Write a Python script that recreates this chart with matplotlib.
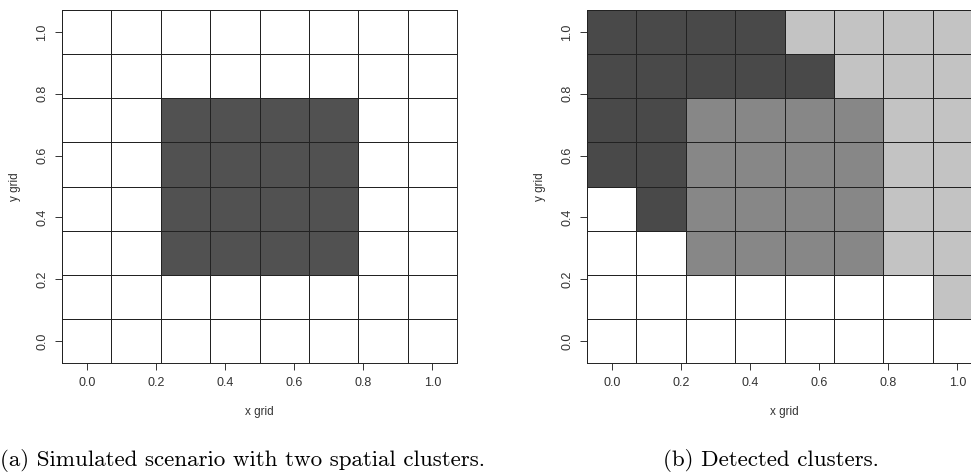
# Two spatial cluster grids, simulated vs detected

import numpy as np
import matplotlib.pyplot as plt
from matplotlib.colors import ListedColormap

# grid centres (8 x 8 cells)
x_grid = [0.0, 0.143, 0.286, 0.429, 0.571, 0.714, 0.857, 1.0]
y_grid = [0.0, 0.143, 0.286, 0.429, 0.571, 0.714, 0.857, 1.0]
ticks = [0.0, 0.2, 0.4, 0.6, 0.8, 1.0]
tick_labels = ['0.0', '0.2', '0.4', '0.6', '0.8', '1.0']

# cluster labels, rows listed from top (y=1) to bottom (y=0)
# 0 = none, 1 = dark, 2 = medium, 3 = light
simulated = [
    [0, 0, 0, 0, 0, 0, 0, 0],
    [0, 0, 0, 0, 0, 0, 0, 0],
    [0, 0, 1, 1, 1, 1, 0, 0],
    [0, 0, 1, 1, 1, 1, 0, 0],
    [0, 0, 1, 1, 1, 1, 0, 0],
    [0, 0, 1, 1, 1, 1, 0, 0],
    [0, 0, 0, 0, 0, 0, 0, 0],
    [0, 0, 0, 0, 0, 0, 0, 0],
]
detected = [
    [1, 1, 1, 1, 3, 3, 3, 3],
    [1, 1, 1, 1, 1, 3, 3, 3],
    [1, 1, 2, 2, 2, 2, 3, 3],
    [1, 1, 2, 2, 2, 2, 3, 3],
    [0, 1, 2, 2, 2, 2, 3, 3],
    [0, 0, 2, 2, 2, 2, 3, 3],
    [0, 0, 0, 0, 0, 0, 0, 3],
    [0, 0, 0, 0, 0, 0, 0, 0],
]

cmap_a = ListedColormap(['white', '#515151'])
cmap_b = ListedColormap(['white', '#494949', '#878787', '#c3c3c3'])

W, H = 971, 475
fig = plt.figure(figsize=(W / 100, H / 100), dpi=100)


def panel(left_px, grid, cmap, vmax):
    ax = fig.add_axes([left_px / W, (H - 363) / H, 395 / W, 353 / H])
    z = np.array(grid)[::-1]  # flip so row 0 is y=0
    ax.pcolormesh(x_grid, y_grid, z, cmap=cmap, vmin=-0.5, vmax=vmax + 0.5,
                  shading='nearest', edgecolors='#222222', linewidth=0.45)
    ax.set_xlim(-1 / 14, 1 + 1 / 14)
    ax.set_ylim(-1 / 14, 1 + 1 / 14)
    ax.set_xticks(ticks)
    ax.set_xticklabels(tick_labels)
    ax.set_yticks(ticks)
    ax.set_yticklabels(tick_labels, rotation=90, va='center')
    ax.tick_params(length=5, width=0.7, pad=5, labelsize=9,
                   colors='#333333', labelcolor='#333333')
    for s in ax.spines.values():
        s.set_linewidth(0.7)
        s.set_color('#222222')
    ax.set_xlabel('x grid', fontsize=8.5, color='#333333', labelpad=12)
    ax.set_ylabel('y grid', fontsize=8.5, color='#333333', labelpad=11)
    return ax


plt.rcParams['font.family'] = ['Liberation Sans', 'DejaVu Sans']

panel(62, simulated, cmap_a, 1)
panel(587, detected, cmap_b, 3)

fig.text(243 / W, 1 - 461 / H, '(a) Simulated scenario with two spatial clusters.',
         ha='center', va='center', fontsize=16.6, family='cmr10')
fig.text(771 / W, 1 - 461 / H, '(b) Detected clusters.',
         ha='center', va='center', fontsize=16.6, family='cmr10')

fig.savefig('out.png', dpi=100)
